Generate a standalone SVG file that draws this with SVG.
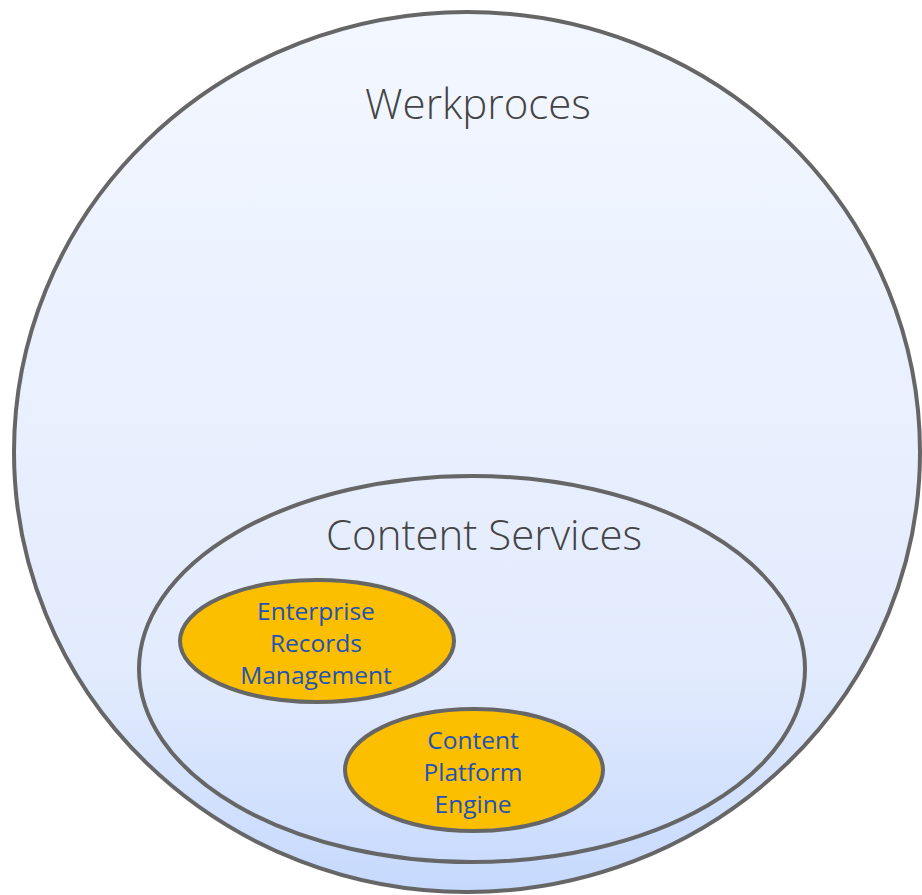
<svg xmlns="http://www.w3.org/2000/svg" width="922" height="895" viewBox="0 0 922 895">
<defs>
<linearGradient id="bg" x1="0" y1="0" x2="0" y2="1">
<stop offset="0" stop-color="#f3f7ff"/>
<stop offset="0.75" stop-color="#e2ebfd"/>
<stop offset="1" stop-color="#c6d9fd"/>
</linearGradient>
<style>
.ring{stroke:#666;stroke-width:4;}
.title{font-family:"Open Sans","Liberation Sans",sans-serif;font-weight:300;font-size:42px;fill:#444;text-anchor:middle;}
.lbl{font-family:"Open Sans","Liberation Sans",sans-serif;font-weight:400;font-size:24.5px;fill:#2252b8;text-anchor:middle;}
.node{fill:#fbbf00;}
</style>
</defs>
<rect width="922" height="895" fill="#fff"/>
<g id="werkproces">
<ellipse class="ring" cx="467" cy="452" rx="453" ry="440" fill="url(#bg)"/>
<text class="title" x="478" y="119">Werkproces</text>
</g>
<g id="content-services">
<ellipse class="ring" cx="472" cy="669" rx="333" ry="193" fill="none"/>
<text class="title" x="484" y="550">Content Services</text>
</g>
<g id="erm">
<ellipse class="ring node" cx="317" cy="641" rx="137" ry="61"/>
<text class="lbl" x="316" y="620">Enterprise</text>
<text class="lbl" x="316" y="652">Records</text>
<text class="lbl" x="316" y="684">Management</text>
</g>
<g id="cpe">
<ellipse class="ring node" cx="474" cy="770" rx="129" ry="61"/>
<text class="lbl" x="473" y="749">Content</text>
<text class="lbl" x="473" y="781">Platform</text>
<text class="lbl" x="473" y="813">Engine</text>
</g>
<g id="connectors"/>
</svg>
